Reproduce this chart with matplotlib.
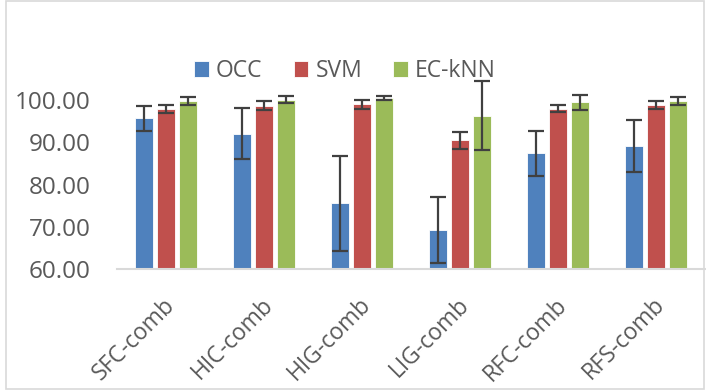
import numpy as np
import matplotlib
matplotlib.use("Agg")
import matplotlib.pyplot as plt
from matplotlib.patches import Rectangle
from matplotlib.transforms import ScaledTranslation

# ----- data ---------------------------------------------------------------- #
categories = ["SFC-comb", "HIC-comb", "HIG-comb", "LIG-comb", "RFC-comb", "RFS-comb"]
series = ["OCC", "SVM", "EC-kNN"]
occ = [95.7, 92.1, 75.6, 69.3, 87.4, 89.2]
svm = [97.9, 98.7, 99.0, 90.5, 98.0, 98.8]
eckn = [99.8, 100.1, 100.5, 96.3, 99.5, 99.8]
occ_err = [3.0, 6.0, 11.3, 7.7, 5.4, 6.1]
svm_err = [1.0, 1.0, 1.0, 2.0, 0.9, 1.0]
eckn_err = [1.0, 0.9, 0.5, 8.2, 1.75, 1.0]
yticks = [60, 70, 80, 90, 100]

colours = ["#4F81BD", "#C0504D", "#9BBB59"]
grey = "#595959"

plt.rcParams["font.family"] = ["Open Sans", "DejaVu Sans"]

W, H = 706, 390
fig = plt.figure(figsize=(W / 100, H / 100), dpi=100)
# axes placed in pixel terms: left 117, right 705, baseline 269
ax = fig.add_axes([117 / W, 1 - 269.3 / H, 588 / W, 211.5 / H])

x = np.arange(len(categories))
step, width = 0.225, 0.175
for i, (vals, errs) in enumerate([(occ, occ_err), (svm, svm_err), (eckn, eckn_err)]):
    pos = x + (i - 1) * step
    ax.bar(pos, np.array(vals) - 60, bottom=60, width=width, color=colours[i],
           edgecolor="white", linewidth=0.6, label=series[i], zorder=2)
    ax.errorbar(pos, vals, yerr=errs, fmt="none", ecolor="#404040",
                elinewidth=1.6, capsize=6, capthick=1.6, zorder=3)

ax.set_xlim(-0.5, len(categories) - 0.5)
ax.set_ylim(60, 110)
ax.set_yticks(yticks)
ax.set_yticklabels([f"{v:.2f}" for v in yticks], fontsize=17.5, color=grey)
ax.tick_params(axis="y", length=0, pad=19)
ax.tick_params(axis="x", length=0, pad=17)
ax.set_xticks(x)
ax.set_xticklabels(categories, rotation=45, ha="right", rotation_mode="anchor",
                   fontsize=16.5, color=grey)
shift = ScaledTranslation(-0.03, 0, fig.dpi_scale_trans)
for lab in ax.get_xticklabels():
    lab.set_transform(lab.get_transform() + shift)
for s in ["top", "right", "left"]:
    ax.spines[s].set_visible(False)
ax.spines["bottom"].set_color("#d9d9d9")
ax.spines["bottom"].set_linewidth(1.5)

fig.legend(loc="center", bbox_to_anchor=(345 / W, 1 - 71 / H), ncol=3,
           frameon=False, fontsize=16.5, labelcolor=grey,
           handlelength=0.65, handleheight=0.65, handletextpad=0.3,
           columnspacing=1.35)

# light chart border
fig.patches.append(Rectangle((6 / W, 0.002), 698 / W, 0.996,
                             transform=fig.transFigure, fill=False,
                             edgecolor="#d9d9d9", linewidth=1.2))

fig.savefig("out.png", dpi=100)
